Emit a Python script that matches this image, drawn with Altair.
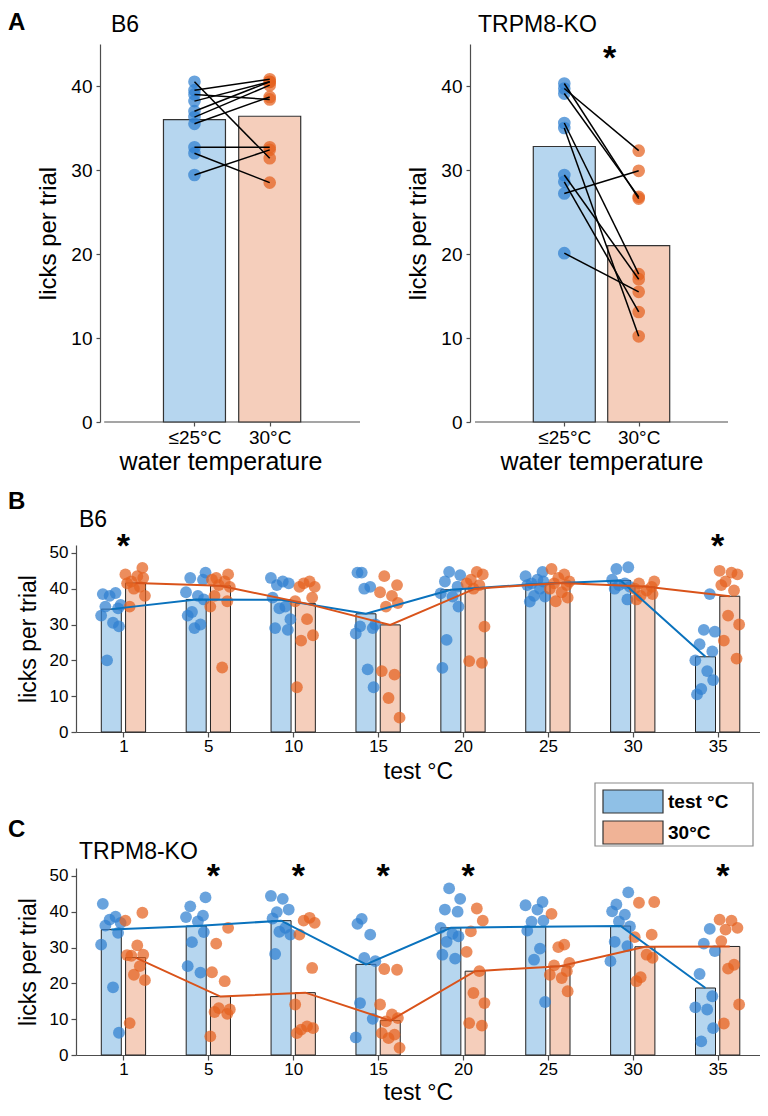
import altair as alt
import pandas as pd

FONT = "Liberation Sans"
BLUE_BAR = "#8fc0e6"
ORANGE_BAR = "#f0b396"
BLUE_PT = "#2f80d0"
ORANGE_PT = "#e5611e"
BLUE_LINE = "#0a72bd"
ORANGE_LINE = "#d9531a"
AXIS_GREY = "#4d4d4d"
NO_FRAME = alt.ViewBackground(strokeOpacity=0, strokeWidth=0, stroke="transparent")

# ---------------- data: panel A ----------------
a_groups = ["≤25°C", "30°C"]
a_b6_cold = [40.5, 39.5, 39.0, 38.2, 37.0, 36.3, 35.5, 32.7, 32.0, 29.4]
a_b6_warm = [31.4, 40.8, 38.4, 40.5, 40.5, 40.1, 38.7, 32.7, 28.5, 32.4]
a_b6_means = [36.0, 36.4]
a_ko_cold = [40.3, 39.7, 39.1, 35.6, 35.0, 29.4, 28.6, 27.2, 20.1]
a_ko_warm = [26.6, 32.3, 26.8, 17.6, 10.2, 17.0, 13.1, 29.9, 15.5]
a_ko_means = [32.8, 21.0]

# ---------------- data: panels B / C ----------------
test_temps = ["1", "5", "10", "15", "20", "25", "30", "35"]

b_test_means = [34.3, 37.0, 36.9, 33.0, 39.7, 41.3, 42.3, 21.0]
b_warm_means = [41.6, 40.8, 35.9, 29.9, 40.0, 41.6, 40.6, 37.9]
b_test_pts = [
    [38.5, 38.8, 38.0, 35.5, 35.0, 34.5, 32.5, 30.5, 29.5, 20.0],
    [44.5, 43.0, 42.5, 39.0, 38.0, 37.0, 33.5, 32.5, 30.0, 29.0],
    [43.0, 42.0, 41.5, 41.0, 37.5, 35.0, 34.5, 31.5, 29.0, 28.5],
    [44.5, 44.5, 40.5, 40.0, 30.0, 29.5, 29.0, 27.5, 17.5, 12.5],
    [44.7, 43.8, 42.0, 40.6, 38.7, 37.8, 35.0, 25.7, 17.9],
    [44.7, 43.5, 42.5, 42.0, 41.5, 41.0, 40.0, 38.0, 37.8, 36.4],
    [46.0, 45.5, 42.5, 41.5, 41.0, 40.5, 40.0, 37.0],
    [38.5, 28.5, 28.0, 24.5, 22.5, 20.0, 17.0, 14.5, 12.0, 10.5],
]
b_warm_pts = [
    [45.8, 44.0, 43.5, 43.0, 42.0, 41.5, 40.5, 40.0, 38.0, 35.0],
    [44.0, 43.0, 42.5, 42.0, 41.0, 40.5, 38.0, 36.5, 35.0, 18.0],
    [42.0, 41.5, 40.5, 40.5, 37.5, 36.5, 31.5, 27.0, 25.5, 12.5],
    [43.5, 41.0, 39.0, 38.0, 36.0, 35.0, 17.0, 16.0, 9.5, 4.0],
    [44.7, 44.0, 42.5, 41.5, 41.0, 40.0, 29.4, 19.8, 19.3],
    [45.5, 44.0, 43.0, 42.0, 41.5, 41.0, 40.0, 39.0, 37.5, 36.5],
    [42.0, 41.5, 40.5, 40.0, 39.5, 38.5, 38.0, 37.0],
    [45.0, 44.5, 44.0, 42.0, 41.0, 39.5, 32.5, 30.0, 25.5, 20.5],
]
b_stars = ["1", "35"]

c_test_means = [35.0, 36.0, 37.5, 25.3, 35.5, 35.8, 36.0, 18.7]
c_warm_means = [27.2, 16.3, 17.4, 9.6, 23.4, 24.8, 30.2, 30.3]
c_test_pts = [
    [42.2, 38.6, 37.8, 36.9, 36.1, 34.1, 30.8, 18.9, 6.2],
    [44.0, 41.5, 38.9, 38.5, 37.3, 34.3, 31.5, 24.8, 23.0],
    [44.4, 43.6, 40.6, 39.9, 38.1, 35.5, 34.4, 33.6, 28.2],
    [38.0, 36.6, 33.6, 27.1, 26.2, 14.5, 10.1, 4.9],
    [46.5, 43.6, 40.6, 40.0, 35.5, 33.8, 33.1, 31.6, 28.0, 26.9],
    [42.7, 41.8, 40.6, 37.5, 37.2, 34.7, 29.7, 26.6, 14.8],
    [45.4, 42.0, 40.1, 39.2, 37.3, 35.9, 31.6, 30.4, 26.2],
    [35.2, 31.1, 29.0, 22.6, 16.4, 13.3, 12.7, 7.5, 3.8],
]
c_warm_pts = [
    [39.7, 37.5, 30.6, 28.0, 27.7, 27.9, 24.8, 22.4, 20.9, 8.9],
    [35.5, 31.1, 23.1, 20.6, 13.1, 12.7, 12.0, 11.5, 5.2],
    [38.3, 37.5, 36.9, 33.6, 24.3, 14.1, 8.0, 7.5, 7.1, 6.1],
    [24.0, 23.8, 14.1, 11.3, 10.3, 9.4, 6.1, 5.7, 4.7, 2.0],
    [40.9, 37.5, 34.5, 28.8, 23.4, 17.3, 14.5, 8.9, 8.2],
    [39.4, 30.8, 30.1, 25.7, 25.0, 23.4, 22.4, 21.5, 17.8],
    [42.7, 42.5, 33.6, 32.9, 28.0, 27.1, 21.7, 20.6],
    [37.8, 37.5, 35.5, 35.0, 31.8, 25.2, 24.1, 14.1, 8.8],
]
c_stars = ["5", "10", "15", "20", "35"]

legend_labels = ["test °C", "30°C"]

# fixed horizontal scatter pattern for the dots (fraction of one category step)
jitter = [-0.10, 0.05, -0.02, 0.11, -0.07, 0.08, -0.12, 0.02, 0.09, -0.05]


def axis(title, values, label_expr, label_fs, title_fs, title_pad, label_pad, tick,
         offset=0, domain=True):
    kw = dict(title=title, values=values, grid=False, domain=domain, domainColor=AXIS_GREY,
              tickColor=AXIS_GREY, tickSize=tick, domainWidth=1.2, tickWidth=1.2,
              labelFont=FONT, labelFontSize=label_fs, labelColor="black",
              labelPadding=label_pad, titleFont=FONT, titleFontSize=title_fs,
              titleFontWeight="normal", titleColor="black", titlePadding=title_pad,
              labelFlush=False, labelOverlap=False, offset=offset)
    if label_expr:
        kw["labelExpr"] = label_expr
    return alt.Axis(**kw)


def text_layer(label, x, y, size, weight="normal", align="left", baseline="top"):
    return alt.Chart(pd.DataFrame({"t": [label]})).mark_text(
        align=align, baseline=baseline, font=FONT, fontSize=size,
        fontWeight=weight, color="black").encode(
        x=alt.value(x), y=alt.value(y), text="t:N")


def panel_a(cold, warm, means, name, name_x, letter, star, width, x_lo, y_off):
    # x_lo < -0.2 widens the view on the left; the y axis is then moved in by y_off px
    xs = alt.Scale(domain=[x_lo, 3.2], nice=False, zero=False)
    ys = alt.Scale(domain=[0, 45], nice=False)
    expr = "[" + ",".join("'%s'" % g for g in a_groups) + "][datum.value - 1]"
    X = alt.X("x:Q", scale=xs,
              axis=axis("water temperature", [1, 2], expr, 19, 25, 2, 2, 4, 0, False))
    Y = alt.Y("v:Q", scale=ys, stack=None,
              axis=axis("licks per trial", [0, 10, 20, 30, 40], None, 19, 24, 10, 4, 4, -y_off))

    layers = []
    # x axis baseline, spanning the axis range only
    layers.append(alt.Chart(pd.DataFrame({"x": [-0.2], "x2": [3.2], "v": [0]})).mark_rule(
        color=AXIS_GREY, strokeWidth=1.2).encode(X, alt.X2("x2:Q"), Y))
    for pos, m, col in [(1, means[0], BLUE_BAR), (2, means[1], ORANGE_BAR)]:
        layers.append(alt.Chart(pd.DataFrame({"x": [pos], "v": [m]})).mark_bar(
            size=62, color=col, fillOpacity=0.65, stroke="#333", strokeWidth=1.2).encode(X, Y))
    for pos, vals, col in [(1, cold, BLUE_PT), (2, warm, ORANGE_PT)]:
        layers.append(alt.Chart(pd.DataFrame({"x": [pos] * len(vals), "v": vals})).mark_circle(
            size=160, color=col, opacity=0.72).encode(X, Y))
    pairs = pd.DataFrame({"x": [1] * len(cold), "x2": [2] * len(warm), "v": cold, "v2": warm})
    layers.append(alt.Chart(pairs).mark_rule(color="black", strokeWidth=1.5).encode(
        X, alt.X2("x2:Q"), Y, alt.Y2("v2:Q")))
    if star:
        layers.append(alt.Chart(pd.DataFrame({"x": [1.61], "v": [43.2], "t": ["*"]})).mark_text(
            font=FONT, fontSize=34, fontWeight="bold", baseline="middle",
            color="black").encode(X, Y, text="t:N"))
    if letter:
        layers.append(text_layer(letter, -68, -33, 24, "bold"))
    layers.append(text_layer(name, name_x, -30, 23))
    return alt.layer(*layers).properties(width=width, height=378, view=NO_FRAME)


def panel_bc(test_means, warm_means, test_pts, warm_pts, stars, star_v, star_shift,
             name, letter, with_legend, x_title_pad):
    n = len(test_temps)
    off = 0.143
    xs = alt.Scale(domain=[0.5, 8.44], nice=False, zero=False)
    ys = alt.Scale(domain=[0, 52.2], nice=False)
    expr = "[" + ",".join("'%s'" % t for t in test_temps) + "][datum.value - 1]"
    X = alt.X("x:Q", scale=xs,
              axis=axis("test °C", list(range(1, n + 1)), expr, 17, 23, x_title_pad, 1, 5))
    Y = alt.Y("v:Q", scale=ys, stack=None,
              axis=axis("licks per trial", [0, 10, 20, 30, 40, 50], None, 17, 23, 9, 3, 5))

    series = [(-off, test_means, test_pts, BLUE_BAR, BLUE_PT, BLUE_LINE, 0),
              (off, warm_means, warm_pts, ORANGE_BAR, ORANGE_PT, ORANGE_LINE, 5)]
    bar_layers, pt_layers, line_layers = [], [], []
    for sh, means, pts, cbar, cpt, cline, jstart in series:
        mdf = pd.DataFrame({"x": [i + 1 + sh for i in range(n)], "v": means})
        bar_layers.append(alt.Chart(mdf).mark_bar(
            size=20, color=cbar, fillOpacity=0.65, stroke="#222", strokeWidth=1).encode(X, Y))
        line_layers.append(alt.Chart(mdf).mark_line(color=cline, strokeWidth=2).encode(X, Y))
        rows = []
        for i, vals in enumerate(pts):
            for k, v in enumerate(vals):
                rows.append({"x": i + 1 + sh + jitter[(k + 3 * i + jstart) % len(jitter)], "v": v})
        pt_layers.append(alt.Chart(pd.DataFrame(rows)).mark_circle(
            size=140, color=cpt, opacity=0.72).encode(X, Y))

    layers = bar_layers + pt_layers + line_layers
    sdf = pd.DataFrame({"x": [test_temps.index(s) + 1 + star_shift for s in stars],
                        "v": [star_v] * len(stars), "t": ["*"] * len(stars)})
    layers.append(alt.Chart(sdf).mark_text(
        font=FONT, fontSize=34, fontWeight="bold", baseline="middle",
        color="black").encode(X, Y, text="t:N"))
    if with_legend:
        layers.append(text_layer(letter, -68, -50, 24, "bold"))
        layers.append(text_layer(name, 3, -27, 23))
        box = alt.Chart(pd.DataFrame({"t": ["box"]})).mark_rect(
            fill="white", stroke="#8a8a8a", strokeWidth=1.2).encode(
            x=alt.value(519), x2=alt.value(677), y=alt.value(-85), y2=alt.value(-22))
        layers.append(box)
        for j, (lab, col) in enumerate(zip(legend_labels, [BLUE_BAR, ORANGE_BAR])):
            y0 = -78 + 31 * j
            layers.append(alt.Chart(pd.DataFrame({"t": [lab]})).mark_rect(
                fill=col, stroke="#333", strokeWidth=1.2).encode(
                x=alt.value(527), x2=alt.value(587), y=alt.value(y0), y2=alt.value(y0 + 23)))
            layers.append(text_layer(lab, 592, y0 + 12, 19, "bold", baseline="middle"))
    else:
        layers.append(text_layer(letter, -68, -55, 24, "bold"))
        layers.append(text_layer(name, 3, -36, 23))

    return alt.layer(*layers).properties(width=684, height=187, view=NO_FRAME)


a1 = panel_a(a_b6_cold, a_b6_warm, a_b6_means, "B6", 35, "A", False, 289, -0.508, 24)
a2 = panel_a(a_ko_cold, a_ko_warm, a_ko_means, "TRPM8-KO", 8, None, True, 263, -0.2, 0)
b = panel_bc(b_test_means, b_warm_means, b_test_pts, b_warm_pts, b_stars, 51.6, 0.0,
             "B6", "B", False, 6)
c = panel_bc(c_test_means, c_warm_means, c_test_pts, c_warm_pts, c_stars, 49.7, 0.06,
             "TRPM8-KO", "C", True, 4)

top = alt.hconcat(a1, a2, spacing=41)
bottom = alt.vconcat(b, c, spacing=136, bounds="flush")
chart = alt.vconcat(top, bottom, spacing=16).properties(
    padding={"top": 3, "left": 0, "right": 0, "bottom": 0})
chart = chart.configure_view(stroke="transparent", strokeOpacity=0, strokeWidth=0).configure(font=FONT)

chart.save("out.html", embed_options={"renderer": "svg", "actions": False})
